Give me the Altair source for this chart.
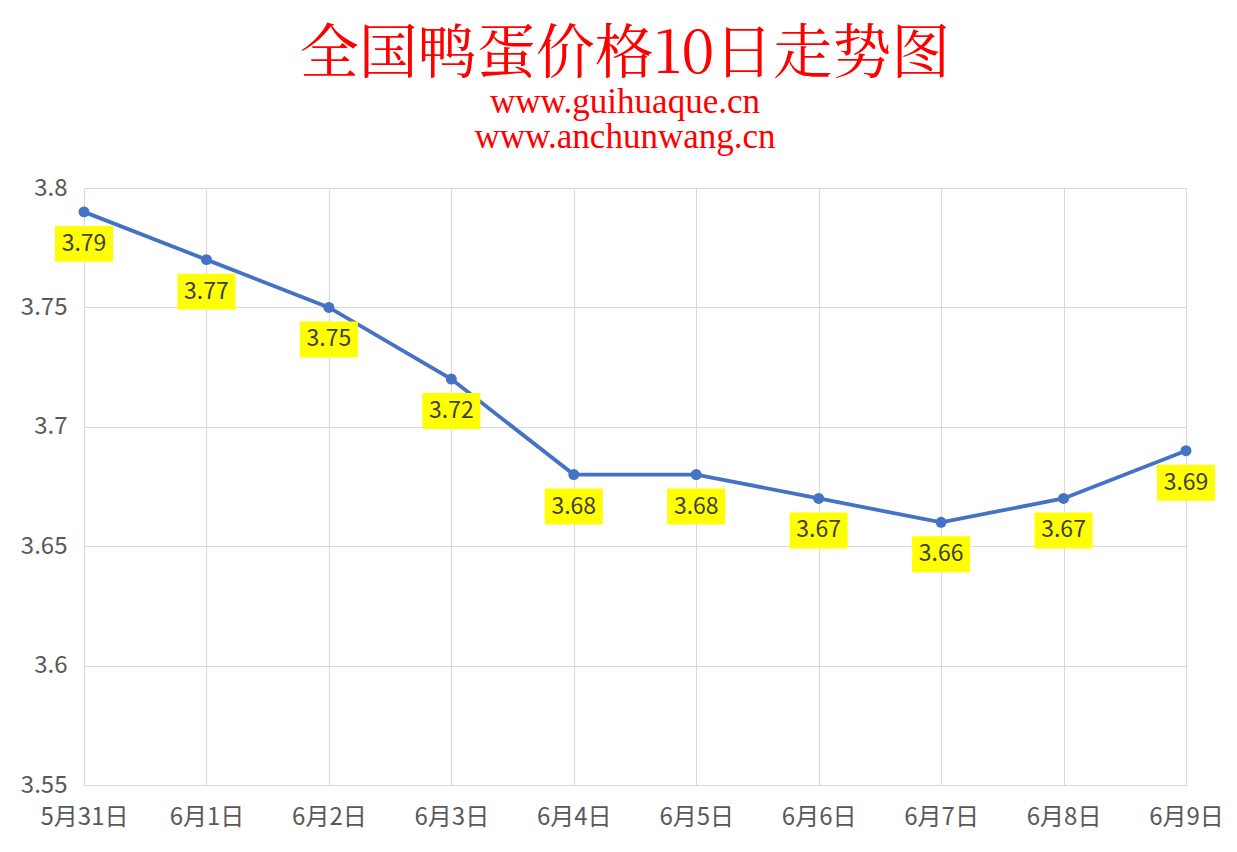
import altair as alt
import pandas as pd

dates = ["5月31日", "6月1日", "6月2日", "6月3日", "6月4日",
         "6月5日", "6月6日", "6月7日", "6月8日", "6月9日"]
prices = [3.79, 3.77, 3.75, 3.72, 3.68, 3.68, 3.67, 3.66, 3.67, 3.69]
y_ticks = [3.55, 3.6, 3.65, 3.7, 3.75, 3.8]

title_text = "全国鸭蛋价格10日走势图"
subtitle_lines = ["www.guihuaque.cn", "www.anchunwang.cn"]

df = pd.DataFrame({"date": dates, "price": prices})

LINE = "#4472C4"
GRID = "#d9d9d9"
LABEL_FONT = "Noto Sans CJK SC"

x = alt.X(
    "date:N", sort=dates,
    scale=alt.Scale(type="point", padding=0),
    axis=alt.Axis(title=None, labelAngle=0, grid=True, gridColor=GRID, gridWidth=1,
                  domainColor=GRID, domainWidth=1, ticks=False, labelFontSize=24,
                  labelColor="#595959", labelPadding=20, labelFont=LABEL_FONT),
)
y = alt.Y(
    "price:Q",
    scale=alt.Scale(domain=[3.55, 3.8], zero=False, nice=False),
    axis=alt.Axis(title=None, values=y_ticks, format=".2~f", grid=True, gridColor=GRID,
                  gridWidth=1, domain=False, ticks=False, labelFontSize=24,
                  labelColor="#595959", labelPadding=17, labelFont=LABEL_FONT),
)

base = alt.Chart(df).encode(x=x, y=y)

line = base.mark_line(color=LINE, strokeWidth=3.8)
dots = base.mark_circle(color=LINE, size=120, opacity=1)
boxes = base.mark_point(
    shape="M-1,-0.62H1V0.62H-1Z", filled=True, fill="#FFFF00", color="#FFFF00",
    opacity=1, size=58 * 58, strokeWidth=0, yOffset=32,
)
texts = base.mark_text(dy=32, fontSize=23, color="#404040", font=LABEL_FONT).encode(
    text=alt.Text("price:Q", format=".2f")
)

chart = (
    alt.layer(line, dots, boxes, texts)
    .properties(
        width=1102, height=597,
        autosize=alt.AutoSizeParams(type="none"),
        padding={"left": 76, "top": 180, "right": 43, "bottom": 59},
        background="white",
        title=alt.TitleParams(
            text=title_text, subtitle=subtitle_lines, anchor="middle", dx=-10,
            fontSize=59, font="Noto Serif CJK SC, Noto Sans CJK SC", fontWeight="normal",
            color="#FF0000", subtitleColor="#FF0000", subtitleFont="Liberation Serif",
            subtitleFontSize=35, subtitleLineHeight=35, subtitlePadding=0, offset=21,
        ),
    )
    .configure_view(stroke="transparent")
)

chart.save("out.html", embed_options={"renderer": "svg", "actions": False})
